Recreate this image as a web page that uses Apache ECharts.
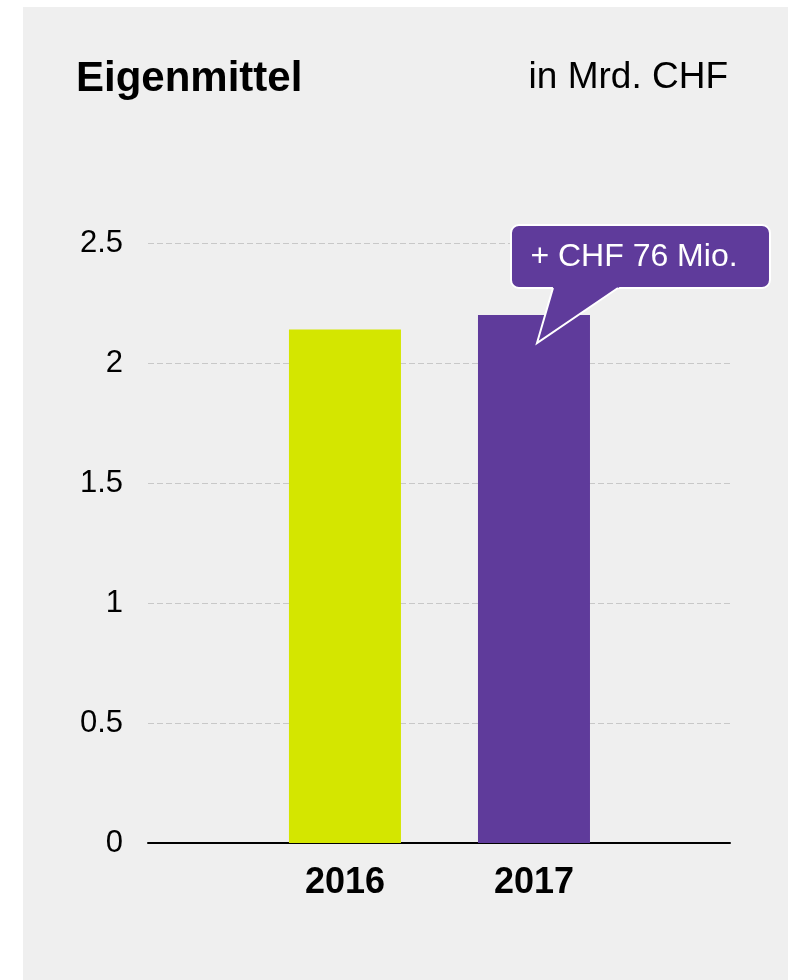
<!DOCTYPE html>
<html>
<head>
<meta charset="utf-8">
<script src="https://cdn.jsdelivr.net/npm/echarts@6/dist/echarts.min.js"></script>
<style>
  html, body { margin: 0; padding: 0; background: #ffffff; }
  #chart { position: absolute; left: 23px; top: 7px; width: 765px; height: 973px; background: #efefef; }
</style>
</head>
<body>
<div id="chart"></div>
<script>
// data
const years = [2016, 2017];
const equity = [2.14, 2.20];   // in Mrd. CHF
const barColors = ['#d4e600', '#5f3b9b'];
const calloutText = '+ CHF 76 Mio.';

const FONT = 'Liberation Sans, Arial, sans-serif';

const chartDom = document.getElementById('chart');
const myChart = echarts.init(chartDom, null, { renderer: 'canvas' });

const option = {
  animation: false,
  title: [
    {
      text: 'Eigenmittel',
      left: 48,
      top: 46,
      textStyle: { fontFamily: FONT, fontSize: 42, fontWeight: 'bold', color: '#000' }
    },
    {
      text: 'in Mrd. CHF',
      right: 55,
      top: 47,
      textStyle: { fontFamily: FONT, fontSize: 37, fontWeight: 'normal', color: '#000' }
    }
  ],
  grid: { left: 125, right: 58, top: 236, bottom: 137, containLabel: false },
  xAxis: {
    type: 'value',
    min: 2014.958,
    max: 2018.037,
    splitLine: { show: false },
    axisTick: { show: false },
    axisLine: { show: true, lineStyle: { color: '#000', width: 2 } },
    axisLabel: {
      customValues: years,
      formatter: v => String(v),
      fontFamily: FONT,
      fontSize: 36,
      fontWeight: 'bold',
      color: '#000',
      margin: 22
    }
  },
  yAxis: {
    type: 'value',
    min: 0,
    max: 2.5,
    interval: 0.5,
    axisLine: { show: false },
    axisTick: { show: false },
    axisLabel: { fontFamily: FONT, fontSize: 31, color: '#000', margin: 25 },
    splitLine: { lineStyle: { color: '#c8c8c8', type: [6, 3], width: 1 } }
  },
  series: [{
    type: 'bar',
    barWidth: 112,
    data: years.map((y, i) => ({ value: [y, equity[i]], itemStyle: { color: barColors[i] } }))
  }]
};
myChart.setOption(option);

// callout anchored to the top of the 2017 bar
const p = myChart.convertToPixel({ gridIndex: 0 }, [years[1], equity[1]]);
const cx = p[0], cy = p[1];
myChart.setOption({
  graphic: [
    {
      type: 'rect', z: 100,
      shape: { x: cx - 23, y: cy - 90, width: 259, height: 63, r: 8 },
      style: { fill: barColors[1], stroke: '#fff', lineWidth: 2 }
    },
    {
      type: 'polygon', z: 101,
      shape: { points: [[cx + 20, cy - 31], [cx + 90, cy - 31], [cx + 3, cy + 28]] },
      style: { fill: barColors[1] }
    },
    {
      type: 'polyline', z: 102,
      shape: { points: [[cx + 19, cy - 27], [cx + 3, cy + 28], [cx + 84, cy - 27]] },
      style: { stroke: '#fff', lineWidth: 2, fill: null }
    },
    {
      type: 'text', z: 103,
      x: cx + 100, y: cy - 58,
      style: {
        text: calloutText,
        fill: '#fff',
        font: '32px ' + FONT,
        textAlign: 'center',
        textVerticalAlign: 'middle'
      }
    }
  ]
});
</script>
</body>
</html>
